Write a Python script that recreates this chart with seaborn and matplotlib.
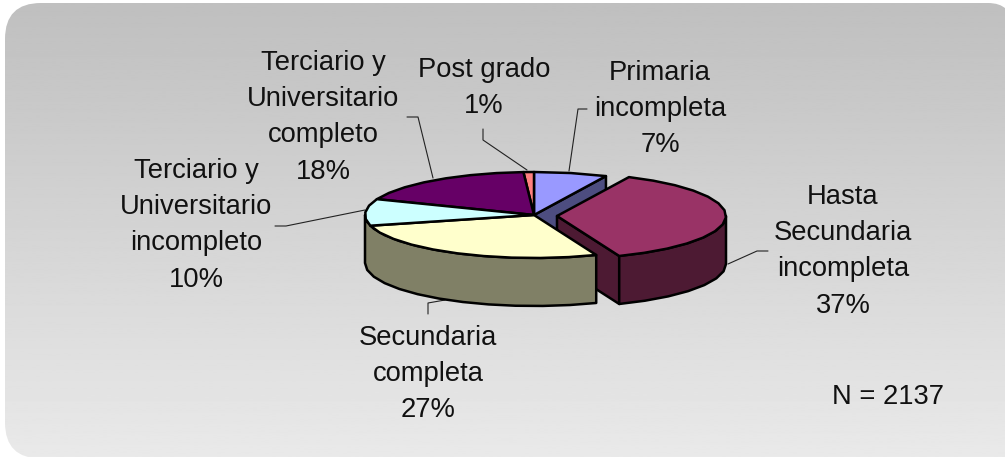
import numpy as np
import matplotlib
matplotlib.use('Agg')
import matplotlib.pyplot as plt
import seaborn as sns
from matplotlib.patches import Polygon, PathPatch
from matplotlib.path import Path

# data
categories = [['Primaria', 'incompleta'],
              ['Hasta', 'Secundaria', 'incompleta'],
              ['Secundaria', 'completa'],
              ['Terciario y', 'Universitario', 'incompleto'],
              ['Terciario y', 'Universitario', 'completo'],
              ['Post grado']]
values = [7, 37, 27, 10, 18, 1]
top_colors = ['#9999ff', '#993366', '#ffffcc', '#ccffff', '#660066', '#ff8080']
side_colors = ['#4d4d80', '#4d1a33', '#808066', '#668080', '#330033', '#804040']
note = 'N = 2137'

sns.set_theme(style='white')
plt.rcParams['font.family'] = ['Liberation Sans', 'DejaVu Sans']

fig = plt.figure(figsize=(10.05, 4.57), dpi=100, facecolor='white')
ax = fig.add_axes([0, 0, 1, 1])
ax.set_xlim(0, 1005)
ax.set_ylim(457, 0)
ax.axis('off')

# background gradient in a rounded box (square at bottom right)
L, T, R, B, r = 5, 3, 1012, 458.5, 36
verts = [(L + r, T), (R - 24, T), (R, T), (R, T + 24), (R, B), (L + r, B), (L, B), (L, B - r),
         (L, T + r), (L, T), (L + r, T)]
codes = [Path.MOVETO, Path.LINETO, Path.CURVE3, Path.CURVE3, Path.LINETO, Path.LINETO,
         Path.CURVE3, Path.CURVE3, Path.LINETO, Path.CURVE3, Path.CURVE3]
box = PathPatch(Path(verts, codes), facecolor='none', edgecolor='none')
ax.add_patch(box)
grad = np.linspace(0.75, 0.915, 256).reshape(-1, 1)
im = ax.imshow(grad, cmap='gray', vmin=0, vmax=1, extent=[L, R, B, T], aspect='auto', zorder=0)
im.set_clip_path(box)
ax.set_xlim(0, 1005)
ax.set_ylim(457, 0)

# pie geometry, pixels
cx, cy, rx, ry, depth = 534, 215, 169, 43, 48
explode = {1: (23, 1)}
edges = np.cumsum([0] + values) * 3.6
edge_lw = 1.8


def rim(a0, a1, ox=0, oy=0, step=9):
    n = max(int(abs(a1 - a0) / step), 1) + 1
    th = np.radians(np.linspace(a0, a1, n))
    return np.column_stack([cx + ox + rx * np.sin(th), cy + oy - ry * np.cos(th)])


def top(i, z):
    ox, oy = explode.get(i, (0, 0))
    pts = np.vstack([[cx + ox, cy + oy], rim(edges[i], edges[i + 1], ox, oy)])
    ax.add_patch(Polygon(pts, closed=True, fc=top_colors[i], ec='black', lw=edge_lw, joinstyle='round', zorder=z))


def wall(i, a0, a1, z):
    ox, oy = explode.get(i, (0, 0))
    pts = rim(a0, a1, ox, oy)
    poly = np.vstack([pts, pts[::-1] + [0, depth]])
    ax.add_patch(Polygon(poly, closed=True, fc=side_colors[i], ec='black', lw=edge_lw, joinstyle='round', zorder=z))


def cut(i, a, z):
    ox, oy = explode.get(i, (0, 0))
    p = rim(a, a, ox, oy)[0]
    c = np.array([cx + ox, cy + oy])
    poly = [c, p, p + [0, depth], c + [0, depth]]
    ax.add_patch(Polygon(poly, closed=True, fc=side_colors[i], ec='black', lw=edge_lw, joinstyle='round', zorder=z))


# back to front
cut(0, edges[1], 2)
top(0, 3)
top(5, 3)
top(4, 3)
cut(1, edges[2], 4)
wall(1, 90, edges[2], 4)
top(1, 5)
wall(2, edges[2], 270, 6)
top(2, 7)
top(3, 7)

# leader lines
leaders = [[(587, 109), (578, 109), (569, 171)],
           [(768, 251), (757, 251), (728, 264)],
           [(428, 314), (428, 303), (445, 300)],
           [(275, 226), (286, 226), (365, 210)],
           [(407, 117), (418, 117), (433, 178)],
           [(483, 129), (483, 140), (527, 170)]]
for pts in leaders:
    xs, ys = zip(*pts)
    ax.plot(xs, ys, color='#222222', lw=0.8, zorder=1)

# labels: centre x, first baseline
label_pos = [(660, 80), (843, 204), (428, 345), (196, 178), (323, 70), (484, 77)]
line_h = 36.2
for (x, y0), lines, v in zip(label_pos, categories, values):
    for k, s in enumerate(lines + ['%d%%' % v]):
        ax.text(x, y0 + k * line_h, s, fontsize=19.7, color='#111111', ha='center', va='baseline', zorder=8)
ax.text(888, 404, note, fontsize=19.7, color='#111111', ha='center', va='baseline', zorder=8)

plt.savefig('out.png', dpi=100)
